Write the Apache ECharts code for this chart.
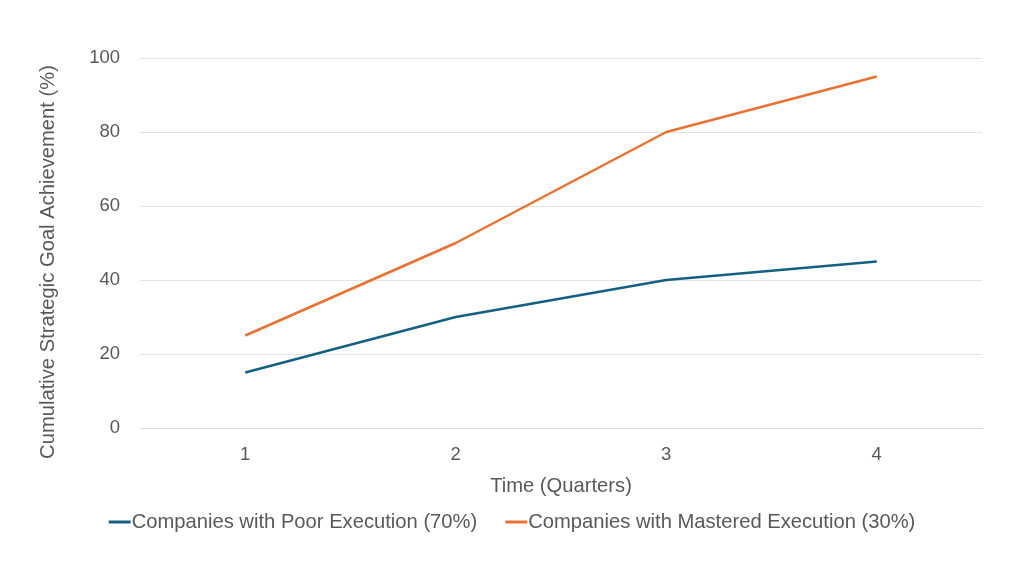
<!DOCTYPE html>
<html><head><meta charset="utf-8">
<script src="https://cdn.jsdelivr.net/npm/echarts@6/dist/echarts.min.js"></script>
<style>html,body{margin:0;padding:0;background:#fff}#c{width:1024px;height:576px}</style>
</head><body><div id="c"></div>
<script>
const categories = ['1', '2', '3', '4'];
const poorName = 'Companies with Poor Execution (70%)';
const masteredName = 'Companies with Mastered Execution (30%)';
const poorValues = [15, 30, 40, 45];
const masteredValues = [25, 50, 80, 95];
const xTitle = 'Time (Quarters)';
const yTitle = 'Cumulative Strategic Goal Achievement (%)';

const font = 'Liberation Sans, Arial, sans-serif';
const fs = 18.5;
const fsT = 20.2;
const chart = echarts.init(document.getElementById('c'), null, {renderer: 'canvas'});
chart.setOption({
  animation: false,
  textStyle: {fontFamily: font},
  grid: {left: 140, right: 42, top: 58, bottom: 148, containLabel: false},
  legend: {
    bottom: 39, left: 'center', itemWidth: 22, itemHeight: 3, itemGap: 28,
    icon: 'rect',
    textStyle: {fontFamily: font, fontSize: fsT, color: '#595959', padding: [0,0,0,-4]},
    data: [poorName, masteredName]
  },
  graphic: [{
    type: 'text', x: 48, y: 262, rotation: Math.PI / 2,
    style: {text: yTitle, font: fsT + 'px ' + font, fill: '#595959',
            textAlign: 'center', textVerticalAlign: 'middle'}
  }],
  xAxis: {
    type: 'category', data: categories, boundaryGap: true,
    name: xTitle, nameLocation: 'middle', nameGap: 48,
    nameTextStyle: {fontFamily: font, fontSize: fsT, color: '#595959'},
    axisLine: {show: true, lineStyle: {color: '#d9d9d9'}},
    axisTick: {show: false},
    axisLabel: {fontFamily: font, fontSize: fs, color: '#595959', margin: 17}
  },
  yAxis: {
    type: 'value', min: 0, max: 100, interval: 20,
    axisLine: {show: false}, axisTick: {show: false},
    splitLine: {lineStyle: {color: '#e3e3e3'}},
    axisLabel: {fontFamily: font, fontSize: fs, color: '#595959', margin: 20}
  },
  series: [
    {name: poorName, type: 'line', data: poorValues, symbol: 'none',
     lineStyle: {color: '#156082', width: 2.5}, itemStyle: {color: '#156082'}},
    {name: masteredName, type: 'line', data: masteredValues, symbol: 'none',
     lineStyle: {color: '#E97132', width: 2.5}, itemStyle: {color: '#E97132'}}
  ]
});
</script></body></html>
